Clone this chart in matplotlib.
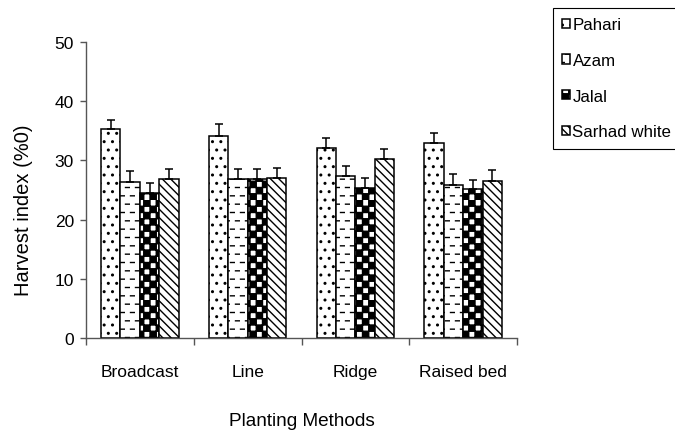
import numpy as np
import matplotlib
matplotlib.use("Agg")
import matplotlib.pyplot as plt
import matplotlib.hatch as mhatch
from matplotlib.path import Path

# ---------------- data ----------------
methods = ["Broadcast", "Line", "Ridge", "Raised bed"]
varieties = ["Pahari", "Azam", "Jalal", "Sarhad white"]
pahari = [35.3, 34.1, 32.1, 33.0]
azam = [26.4, 26.8, 27.3, 25.9]
jalal = [24.5, 26.8, 25.3, 25.1]
sarhad = [26.8, 27.0, 30.2, 26.5]
err_pahari = [1.6, 2.0, 1.7, 1.7]
err_azam = [1.8, 1.8, 1.8, 1.8]
err_jalal = [1.7, 1.7, 1.7, 1.6]
err_sarhad = [1.7, 1.7, 1.7, 1.8]
ylabel = "Harvest index (%0)"
xlabel = "Planting Methods"


# ---------------- custom hatch patterns ----------------
class DashHatch(mhatch.HatchPatternBase):
    """Staggered short horizontal dashes, triggered by '-'."""
    def __init__(self, hatch, density):
        self.rows = 12 if hatch.count('-') else 0
        self.cols = 10
        self.num_vertices = self.rows * self.cols * 2

    def set_vertices_and_codes(self, vertices, codes):
        k = 0
        for i in range(self.rows):
            y = (i + 0.5) / self.rows
            off = 0.0 if i % 2 == 0 else 0.5 / self.cols
            for j in range(self.cols):
                x0 = j / self.cols + off + 0.05 / self.cols
                x1 = x0 + 0.38 / self.cols
                vertices[k] = (x0, y)
                vertices[k + 1] = (x1, y)
                codes[k] = Path.MOVETO
                codes[k + 1] = Path.LINETO
                k += 2


class CheckerHatch(mhatch.HatchPatternBase):
    """Filled checkerboard squares, triggered by '+'."""
    def __init__(self, hatch, density):
        self.n = 16 if hatch.count('+') else 0
        self.num_vertices = (self.n * self.n // 2) * 5

    def set_vertices_and_codes(self, vertices, codes):
        s = 1.0 / max(self.n, 1)
        k = 0
        for i in range(self.n):
            for j in range(self.n):
                if (i + j) % 2 == 0:
                    x0, y0 = j * s, i * s
                    vertices[k:k + 5] = [(x0, y0), (x0 + s, y0), (x0 + s, y0 + s),
                                         (x0, y0 + s), (x0, y0)]
                    codes[k] = Path.MOVETO
                    codes[k + 1:k + 4] = Path.LINETO
                    codes[k + 4] = Path.CLOSEPOLY
                    k += 5


mhatch._hatch_types = [DashHatch, CheckerHatch, mhatch.SouthEastHatch,
                       mhatch.SmallFilledCircles]

# ---------------- style ----------------
plt.rcParams['font.family'] = ['Liberation Sans', 'DejaVu Sans']
plt.rcParams['hatch.linewidth'] = 1.0
plt.rcParams['hatch.color'] = 'black'

fig = plt.figure(figsize=(6.75, 4.35), dpi=100)
ax = fig.add_axes([86 / 675, 1 - 339 / 435, (517 - 86) / 675, (339 - 43) / 435])

series = [pahari, azam, jalal, sarhad]
errs = [err_pahari, err_azam, err_jalal, err_sarhad]
hatches = ['..', '-', '+', '\\\\\\\\']
x = np.arange(len(methods))
w = 0.18
for i, (vals, e, h, name) in enumerate(zip(series, errs, hatches, varieties)):
    pos = x + (i - 1.5) * w
    ax.bar(pos, vals, width=w, color='white', edgecolor='black', linewidth=1.1,
           hatch=h, label=name, zorder=2)
    ax.errorbar(pos, vals, yerr=[np.zeros(len(vals)), e], fmt='none',
                ecolor='black', elinewidth=1.1, capsize=3.0, capthick=1.1, zorder=3)

ax.set_xlim(-0.5, len(methods) - 0.5)
ax.set_ylim(0, 50)
ax.set_yticks(np.arange(0, 51, 10))
ax.set_xticks(x)
ax.set_xticklabels(methods)
ax.set_xticks(np.arange(-0.5, len(methods), 1.0), minor=True)
ax.tick_params(axis='x', which='major', length=0, pad=18.5, labelsize=12.5)
ax.tick_params(axis='x', which='minor', length=5, width=1, color='#555555', direction='out')
ax.tick_params(axis='y', which='major', length=4.3, width=1, color='#555555',
               labelsize=12.5, pad=4.3)
for s in ['top', 'right']:
    ax.spines[s].set_visible(False)
for s in ['left', 'bottom']:
    ax.spines[s].set_color('#555555')
    ax.spines[s].set_linewidth(1.0)

ax.set_ylabel(ylabel, fontsize=14.5)
ax.yaxis.set_label_coords(-0.123, 0.436)
ax.set_xlabel(xlabel, fontsize=13.7, labelpad=24)

leg = fig.legend(loc='upper left', bbox_to_anchor=(553 / 675, 1 - 9 / 435),
                 fontsize=12.2, frameon=True, fancybox=False, shadow=False,
                 handlelength=0.45, handleheight=0.45, handletextpad=0.15,
                 labelspacing=1.22, borderpad=0.55, borderaxespad=0,
                 framealpha=1)
leg.get_frame().set_edgecolor('black')
leg.get_frame().set_linewidth(0.8)

fig.savefig('out.png', dpi=100)
